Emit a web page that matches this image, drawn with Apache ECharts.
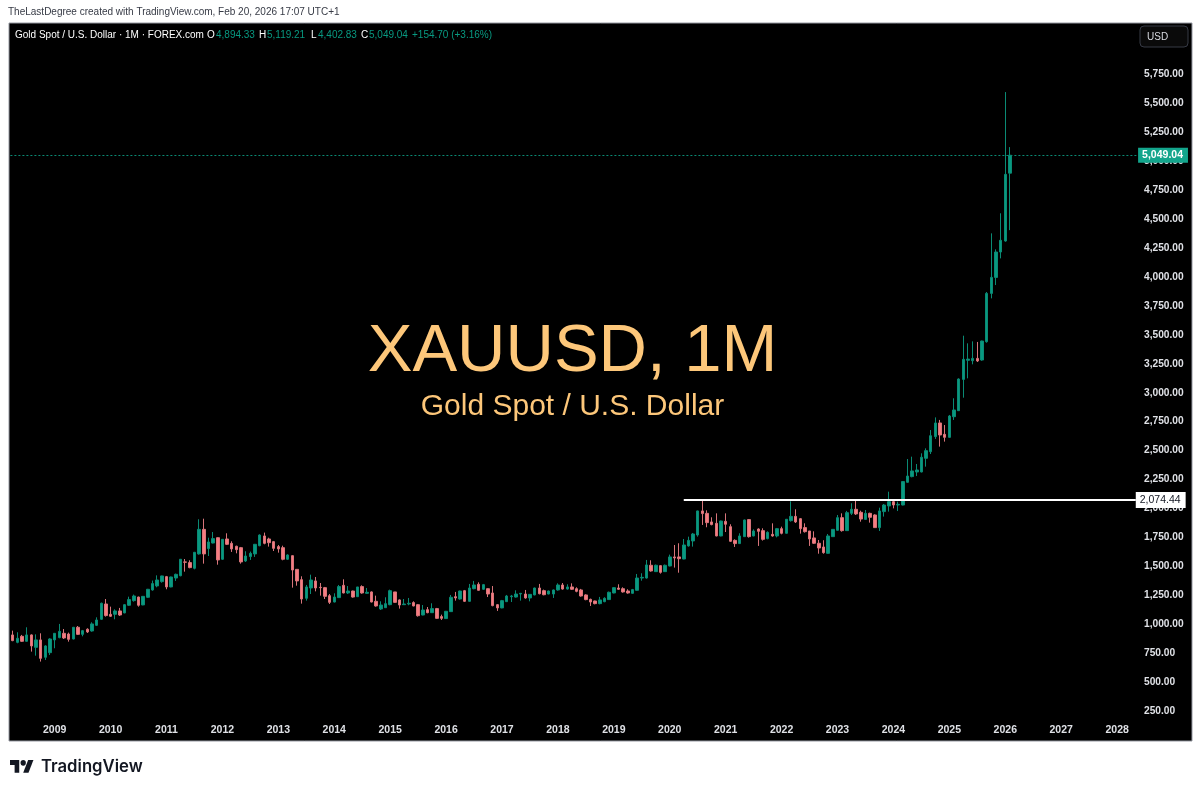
<!DOCTYPE html>
<html>
<head>
<meta charset="utf-8">
<title>XAUUSD, 1M</title>
<script src="https://cdn.jsdelivr.net/npm/echarts@6/dist/echarts.min.js"></script>
<style>
  html, body { margin: 0; padding: 0; background: #fff; }
  #main { width: 1200px; height: 792px; }
</style>
</head>
<body>
<div id="main"></div>
<script>
// monthly candles, Apr 2008 to Feb 2026
var opens = [
  910,846,898,855,910,803,867,717,757,
  867,887,924,918,875,976,915,959,944,993,1045,1177,
  1088,1088,1117,1100,1166,1206,1237,1169,1235,1298,1333,1370,
  1413,1324,1401,1421,1540,1534,1485,1609,1821,1655,1703,1749,
  1563,1738,1700,1675,1663,1548,1586,1609,1680,1764,1738,1715,
  1672,1663,1563,1594,1476,1387,1226,1315,1376,1321,1318,1249,
  1194,1232,1338,1272,1289,1240,1327,1269,1281,1200,1134,1145,
  1171,1281,1212,1171,1177,1189,1171,1082,1128,1102,1137,1068,
  1051,1111,1240,1220,1292,1200,1309,1347,1304,1309,1272,1171,
  1143,1197,1240,1237,1263,1263,1229,1255,1315,1292,1263,1263,
  1298,1341,1306,1324,1309,1298,1255,1217,1203,1180,1197,1215,
  1272,1315,1309,1289,1269,1295,1401,1401,1511,1456,1508,1456,
  1505,1583,1583,1565,1678,1721,1772,1980,1959,1885,1873,1764,
  1890,1844,1726,1698,1758,1905,1764,1824,1810,1741,1778,1764,
  1827,1787,1896,1933,1913,1836,1807,1747,1701,1669,1614,1758,
  1813,1922,1810,1959,1994,1968,1907,1959,1945,1836,1974,2023,
  2060,2031,2031,2227,2276,2316,2316,2434,2491,2621,2739,2641,
  2615,2793,2845,3115,3280,3276,3296,3282,3440,3857,3995,4214,
  4309,4894.33
];
var closes = [
  861,881,855,910,815,867,708,815,875,
  924,941,884,872,976,915,947,936,1005,1039,1183,1077,
  1071,1117,1082,1171,1215,1246,1166,1243,1304,1353,1384,1419,
  1324,1410,1433,1563,1537,1491,1623,1821,1609,1712,1741,1557,
  1735,1692,1652,1646,1540,1591,1614,1692,1772,1700,1706,1657,
  1652,1563,1600,1470,1376,1220,1324,1384,1315,1318,1243,1191,
  1237,1327,1272,1289,1237,1324,1272,1278,1194,1160,1168,1180,
  1292,1191,1168,1177,1183,1160,1076,1125,1102,1137,1053,1053,
  1114,1235,1229,1289,1200,1315,1341,1295,1344,1263,1163,1143,
  1206,1246,1246,1263,1269,1229,1260,1315,1266,1257,1289,1298,
  1341,1306,1324,1304,1286,1246,1215,1194,1180,1212,1226,1278,
  1318,1304,1281,1272,1301,1401,1407,1514,1462,1511,1450,1511,
  1583,1574,1568,1686,1726,1781,1980,1957,1879,1862,1764,1893,
  1865,1718,1698,1764,1902,1758,1807,1804,1735,1795,1764,1827,
  1787,1908,1933,1885,1827,1801,1738,1701,1660,1620,1764,1821,
  1922,1810,1965,1994,1954,1910,1959,1925,1836,1980,2031,2060,
  2031,2037,2233,2281,2325,2333,2443,2500,2629,2739,2635,2615,
  2799,2851,3118,3288,3290,3296,3274,3446,3857,3995,4214,4315,
  4884,5049.04
];
var lows = [
  856,838,849,852,766,731,680,694,737,
  795,881,875,852,872,910,898,927,938,987,1039,1068,
  1065,1045,1074,1097,1160,1197,1154,1166,1229,1292,1321,1361,
  1304,1321,1376,1416,1456,1485,1476,1603,1525,1591,1700,1516,
  1557,1686,1626,1614,1525,1540,1557,1583,1675,1692,1672,1634,
  1620,1554,1557,1318,1335,1180,1206,1263,1286,1249,1220,1177,
  1191,1229,1269,1263,1232,1237,1266,1266,1191,1154,1125,1143,
  1166,1186,1137,1168,1166,1157,1068,1079,1097,1099,1048,1039,
  1048,1108,1206,1214,1194,1197,1304,1292,1298,1237,1157,1117,
  1140,1194,1194,1232,1206,1223,1200,1252,1260,1252,1260,1229,
  1292,1301,1301,1298,1278,1240,1209,1160,1174,1174,1192,1212,
  1269,1298,1275,1266,1266,1292,1378,1396,1456,1453,1439,1453,
  1502,1491,1447,1563,1672,1672,1758,1859,1839,1856,1761,1761,
  1798,1712,1669,1695,1755,1750,1761,1678,1724,1735,1758,1752,
  1778,1784,1888,1876,1784,1793,1678,1695,1611,1611,1611,1755,
  1810,1801,1807,1945,1945,1887,1905,1879,1833,1807,1931,1974,
  2002,1979,2028,2224,2270,2281,2313,2362,2471,2601,2535,2578,
  2612,2765,2842,2957,3124,3245,3265,3276,3432,3814,3929,4159,
  4303,4402.83
];
var highs = [
  947,933,910,976,915,915,924,821,881,
  924,1005,961,930,979,987,953,967,1019,1062,1189,1220,
  1154,1131,1143,1177,1240,1258,1240,1246,1307,1379,1424,1421,
  1419,1413,1439,1565,1565,1554,1626,1908,1913,1749,1798,1752,
  1738,1787,1718,1680,1669,1632,1629,1695,1778,1793,1749,1721,
  1686,1680,1606,1597,1479,1416,1341,1430,1410,1358,1324,1263,
  1269,1341,1390,1332,1292,1324,1338,1315,1286,1249,1200,1235,
  1301,1281,1217,1220,1229,1200,1177,1168,1151,1183,1143,1085,
  1117,1255,1281,1292,1298,1350,1376,1364,1350,1312,1332,1177,
  1212,1255,1255,1295,1272,1298,1263,1318,1350,1301,1292,1301,
  1355,1358,1347,1355,1321,1307,1261,1223,1206,1238,1235,1284,
  1321,1347,1321,1304,1307,1436,1442,1557,1554,1517,1511,1517,
  1603,1686,1701,1738,1758,1790,1982,2075,1985,1925,1959,1896,
  1959,1865,1735,1787,1905,1910,1821,1830,1830,1804,1873,1833,
  1844,1910,2063,1994,1919,1873,1807,1804,1729,1727,1781,1824,
  1945,1959,1980,2046,2080,1982,1988,1965,1951,2008,2040,2146,
  2074,2060,2233,2428,2448,2385,2477,2520,2678,2787,2765,2721,
  2808,2952,3124,3492,3426,3443,3438,3449,3869,4375,4237,4548,
  5594,5119.21
];
var priceTicks = [250,500,750,1000,1250,1500,1750,2000,2250,2500,2750,3000,3250,3500,3750,4000,4250,4500,4750,5000,5250,5500,5750];
var supportLevel = 2074.44;
var lastClose = 5049.04;

var UP = '#089981', DOWN = '#f77c80', PANEL = '#000000', TEXT = '#dfe1e6';

// month axis runs past the last candle out to 2028
var months = [];
for (var y = 2008, m = 4; months.length < 242; m++) {
  if (m > 12) { m = 1; y++; }
  months.push(y + '-' + (m < 10 ? '0' + m : m));
}

var candles = opens.map(function (o, i) {
  return [o, closes[i], lows[i], highs[i]];
});

function fmtPrice(v) {
  return v.toLocaleString('en-US', { minimumFractionDigits: 2, maximumFractionDigits: 2 });
}

function legendText(x, text, color) {
  return {
    type: 'text', x: x, y: 35, z: 10,
    style: { text: text, fill: color, font: '10px "Liberation Sans"', verticalAlign: 'middle' }
  };
}

var chart = echarts.init(document.getElementById('main'), null, { renderer: 'canvas' });
chart.setOption({
  animation: false,
  backgroundColor: '#ffffff',
  grid: { left: 10.4, top: 23, width: 1127.7, height: 697, containLabel: false },
  xAxis: {
    type: 'category',
    data: months,
    axisLine: { show: false },
    axisTick: { show: false },
    splitLine: { show: false },
    axisLabel: {
      color: TEXT,
      fontFamily: 'Liberation Sans',
      fontSize: 10.5,
      fontWeight: 'bold',
      margin: 5,
      interval: function (i, val) { return val.slice(5) === '01'; },
      formatter: function (val) { return val.slice(0, 4); }
    }
  },
  yAxis: {
    type: 'value',
    position: 'right',
    min: 176,
    max: 6190,
    axisLine: { show: false },
    axisTick: { show: false },
    splitLine: { show: false },
    axisLabel: {
      customValues: priceTicks,
      color: TEXT,
      fontFamily: 'Liberation Sans',
      fontSize: 10.2,
      fontWeight: 'bold',
      margin: 5.9,
      formatter: fmtPrice
    }
  },
  series: [{
    type: 'candlestick',
    data: candles,
    barWidth: 3,
    itemStyle: {
      color: UP,
      color0: DOWN,
      borderColor: '#0a8a74',
      borderColor0: '#d8747a',
      borderWidth: 1
    },
    markLine: {
      silent: true,
      symbol: 'none',
      data: [
        [
          {
            xAxis: '2020-04', yAxis: supportLevel,
            lineStyle: { color: '#ffffff', width: 2, type: 'solid' },
            label: {
              show: true, position: 'end', distance: 0,
              formatter: fmtPrice(supportLevel),
              color: '#131722', backgroundColor: '#ffffff',
              fontFamily: 'Liberation Sans', fontSize: 10.5,
              padding: [3, 5, 2, 4]
            }
          },
          { xAxis: months[months.length - 1], yAxis: supportLevel }
        ],
        {
          yAxis: lastClose,
          lineStyle: { color: '#0a8a74', width: 1, type: [2, 2] },
          label: {
            show: true, position: 'end', distance: 0,
            formatter: fmtPrice(lastClose),
            color: '#ffffff', backgroundColor: '#13a58c',
            fontFamily: 'Liberation Sans', fontSize: 10.5, fontWeight: 'bold',
            padding: [2, 5, 2, 4]
          }
        }
      ]
    }
  }],
  graphic: [
    // chart panel behind the grid
    { type: 'rect', z: -1, shape: { x: 9, y: 23, width: 1183, height: 718 }, style: { fill: PANEL, stroke: '#9598a1', lineWidth: 1 } },
    { type: 'text', x: 8, y: 12, style: { text: 'TheLastDegree created with TradingView.com, Feb 20, 2026 17:07 UTC+1', fill: '#363a45', font: '10px "Liberation Sans"', verticalAlign: 'middle' } },
    legendText(15, 'Gold Spot / U.S. Dollar · 1M · FOREX.com', '#ffffff'),
    legendText(207, 'O', '#ffffff'), legendText(216, '4,894.33', UP),
    legendText(259, 'H', '#ffffff'), legendText(267, '5,119.21', UP),
    legendText(311, 'L', '#ffffff'), legendText(318, '4,402.83', UP),
    legendText(361, 'C', '#ffffff'), legendText(369, '5,049.04', UP),
    legendText(412, '+154.70 (+3.16%)', UP),
    // USD button
    { type: 'rect', z: 10, shape: { x: 1140, y: 26, width: 48, height: 21, r: 4 }, style: { fill: '#0a0a0a', stroke: '#363a45', lineWidth: 1 } },
    { type: 'text', z: 11, x: 1147, y: 37, style: { text: 'USD', fill: '#d8dae0', font: '10px "Liberation Sans"', verticalAlign: 'middle' } },
    // watermark
    { type: 'text', z: 1, x: 572.5, y: 353, style: { text: 'XAUUSD, 1M', fill: '#fdc77a', font: '67px "Liberation Sans"', textAlign: 'center', verticalAlign: 'middle' } },
    { type: 'text', z: 1, x: 572.5, y: 407, style: { text: 'Gold Spot / U.S. Dollar', fill: '#fdc77a', font: '30px "Liberation Sans"', textAlign: 'center', verticalAlign: 'middle' } },
    // logo
    {
      type: 'group', x: 10, y: 757, scaleX: 0.66, scaleY: 0.72,
      children: [
        { type: 'polygon', shape: { points: [[0, 4], [14, 4], [14, 22], [7, 22], [7, 11], [0, 11]] }, style: { fill: '#131722' } },
        { type: 'polygon', shape: { points: [[27.5, 4], [35.5, 4], [28, 22], [20, 22]] }, style: { fill: '#131722' } },
        { type: 'circle', shape: { cx: 20, cy: 8, r: 4 }, style: { fill: '#131722' } }
      ]
    },
    { type: 'text', x: 41, y: 767, style: { text: 'TradingView', fill: '#131722', font: '600 16.7px "Inter"', verticalAlign: 'middle' } }
  ]
});
</script>
</body>
</html>
